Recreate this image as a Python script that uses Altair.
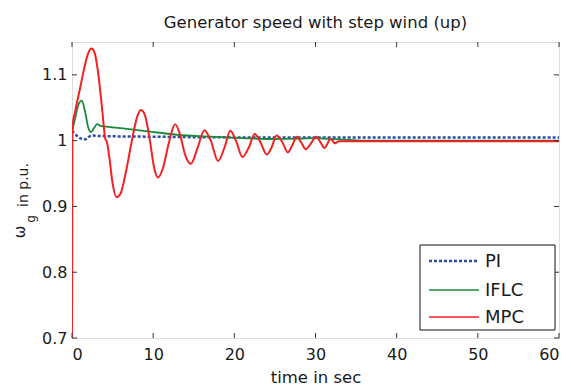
import altair as alt
import pandas as pd

# ---- data ----
mpc_t = [0, 0.05, 0.4, 1.0, 1.6, 2.0, 2.4, 2.8, 3.2, 3.7, 4.1, 4.3, 4.6, 5.0, 5.5, 6.0, 6.6, 7.3,
         8.0, 8.5, 9.0, 9.6, 10.1, 10.6, 11.2, 11.9, 12.7, 13.3, 13.9, 14.65, 15.5, 16.3, 17.1,
         18.0, 18.8, 19.5, 20.2, 21.0, 21.8, 22.5, 23.2, 24.0, 24.6, 25.2, 25.9, 26.6, 27.1,
         27.7, 28.2, 28.8, 29.4, 30.1, 30.6, 31.1, 31.5, 31.8, 32.1, 32.4, 32.9, 34, 45, 60]
mpc_v = [0.70, 1.02, 1.045, 1.08, 1.115, 1.133, 1.140, 1.133, 1.105, 1.05, 1.003, 0.998, 0.975,
         0.935, 0.914, 0.92, 0.95, 0.995, 1.035, 1.0465, 1.038, 1.0, 0.96, 0.944, 0.958, 0.995,
         1.025, 1.01, 0.98, 0.965, 0.99, 1.016, 1.0, 0.969, 0.99, 1.015, 1.0, 0.975, 0.99, 1.010,
         0.998, 0.979, 0.99, 1.008, 0.998, 0.982, 0.992, 1.006, 0.998, 0.987, 0.995, 1.006, 0.998,
         0.989, 0.996, 1.003, 1.0, 0.996, 0.999, 0.999, 0.999, 0.999]

iflc_t = [0, 0.4, 0.8, 1.2, 1.6, 2.0, 2.35, 2.7, 3.1, 3.6, 4.5, 6, 8.8, 12.9, 17, 21, 24.4, 28,
          30, 31, 33, 36, 45, 60]
iflc_v = [1.012, 1.035, 1.055, 1.061, 1.045, 1.02, 1.013, 1.019, 1.025, 1.022, 1.021, 1.019,
          1.015, 1.009, 1.006, 1.004, 1.0025, 1.003, 1.004, 1.003, 1.002, 1.0, 1.0, 1.0]

pi_t = [0, 0.4, 0.8, 1.6, 2.4, 3.5, 10, 20, 30, 40, 50, 60]
pi_v = [1.015, 1.01, 1.005, 1.002, 1.008, 1.007, 1.006, 1.005, 1.005, 1.005, 1.005, 1.005]

x_ticks = [0, 10, 20, 30, 40, 50, 60]
y_ticks = [0.7, 0.8, 0.9, 1.0, 1.1]
series = ["PI", "IFLC", "MPC"]
colors = ["#2b4ba6", "#1b8a3c", "#f52020"]

W, H = 487, 296
FONT = "DejaVu Sans"
TXT = "#1a1a1a"

xs = alt.Scale(domain=[0, 60], nice=False)
ys = alt.Scale(domain=[0.7, 1.15], nice=False)

def line_layer(t, v, color, dash=None, width=1.5):
    df = pd.DataFrame({"t": t, "v": v})
    kw = dict(color=color, strokeWidth=width, interpolate="monotone", clip=True)
    if dash:
        kw["strokeDash"] = dash
    return alt.Chart(df).mark_line(**kw).encode(
        x=alt.X("t:Q", scale=xs,
                axis=alt.Axis(values=x_ticks, title="time in sec", grid=False, ticks=False,
                              domain=False, labelFont=FONT, labelFontSize=16,
                              labelColor=TXT, labelPadding=8, titleFont=FONT,
                              titleFontSize=16.5, titleFontWeight="normal", titleColor=TXT,
                              titlePadding=7)),
        y=alt.Y("v:Q", scale=ys,
                axis=alt.Axis(values=y_ticks, title=None, grid=False, ticks=False,
                              domain=False, format="~g", labelFont=FONT, labelFontSize=16,
                              labelColor=TXT, labelPadding=5)),
    )

pi_layer = line_layer(pi_t, pi_v, colors[0], dash=[3, 2], width=2.5)
iflc_layer = line_layer(iflc_t, iflc_v, colors[1], width=1.8)
mpc_layer = line_layer(mpc_t, mpc_v, colors[2], width=2.0)

xt = pd.DataFrame({"t": x_ticks})
yt = pd.DataFrame({"v": y_ticks})
tick_col = "#333333"
xb = alt.Chart(xt).mark_rule(color=tick_col).encode(x=alt.X("t:Q", scale=xs), y=alt.value(H), y2=alt.value(H - 5))
xtp = alt.Chart(xt).mark_rule(color=tick_col).encode(x=alt.X("t:Q", scale=xs), y=alt.value(0), y2=alt.value(5))
yl = alt.Chart(yt).mark_rule(color=tick_col).encode(y=alt.Y("v:Q", scale=ys), x=alt.value(0), x2=alt.value(5))
yr = alt.Chart(yt).mark_rule(color=tick_col).encode(y=alt.Y("v:Q", scale=ys), x=alt.value(W), x2=alt.value(W - 5))

one = alt.Data(values=[{"k": 1}])

# legend (inside plot, lower right)
lx0, lx1, ly0, ly1 = 348, 483, 203, 288
legend_box = alt.Chart(one).mark_rect(fill="white", stroke="#111111", strokeWidth=1).encode(
    x=alt.value(lx0), x2=alt.value(lx1), y=alt.value(ly0), y2=alt.value(ly1))
legend_layers = [legend_box]
row_y = [219, 248, 275]
for name, col, yy in zip(series, colors, row_y):
    kw = dict(color=col, strokeWidth=2.5 if name == "PI" else 1.6)
    if name == "PI":
        kw["strokeDash"] = [3, 2]
    legend_layers.append(alt.Chart(one).mark_rule(**kw).encode(
        x=alt.value(357), x2=alt.value(407), y=alt.value(yy)))
    legend_layers.append(alt.Chart(one).mark_text(
        align="left", baseline="middle", font=FONT, fontSize=18, color=TXT).encode(
        x=alt.value(413), y=alt.value(yy + 1), text=alt.value(name)))

# y axis title with subscript
ytitle = [
    alt.Chart(one).mark_text(angle=270, align="center", baseline="middle", font=FONT,
                             fontSize=15, color=TXT).encode(
        x=alt.value(-52), y=alt.value(190), text=alt.value("ω")),
    alt.Chart(one).mark_text(angle=270, align="center", baseline="middle", font=FONT,
                             fontSize=12, color=TXT).encode(
        x=alt.value(-41), y=alt.value(177), text=alt.value("g")),
    alt.Chart(one).mark_text(angle=270, align="center", baseline="middle", font=FONT,
                             fontSize=14, color=TXT).encode(
        x=alt.value(-48), y=alt.value(143), text=alt.value("in p.u.")),
]

chart = alt.layer(
    pi_layer, iflc_layer, mpc_layer, xb, xtp, yl, yr, *legend_layers, *ytitle
).properties(
    width=W, height=H,
    title=alt.TitleParams("Generator speed with step wind (up)", font=FONT, fontSize=16.5,
                          fontWeight="normal", color=TXT, offset=10),
    autosize=alt.AutoSizeParams(type="none"),
    padding={"left": 72, "top": 42, "right": 12, "bottom": 50},
).configure_view(stroke="#111111", strokeWidth=1).configure(background="white")

chart.save("out.html", embed_options={"renderer": "svg", "actions": False})
